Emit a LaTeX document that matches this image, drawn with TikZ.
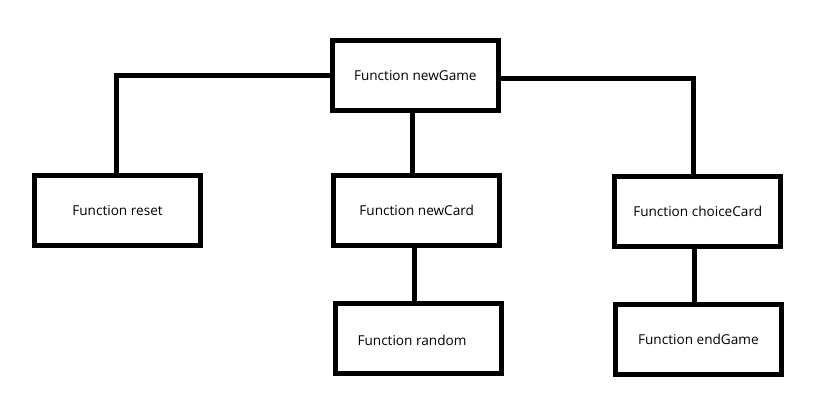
\documentclass[tikz,border=0pt]{standalone}
\usepackage{fontspec}
\setmainfont{Open Sans}
\begin{document}
\begin{tikzpicture}[x=1pt,y=-1pt,
  lbl/.style={font=\fontsize{13.6}{15}\selectfont},
  box/.style={draw=black, line width=5pt, minimum width=165.5pt, minimum height=69.5pt, inner sep=0pt, lbl},
  link/.style={draw=black, line width=5pt}]
\useasboundingbox[fill=white] (0,0) rectangle (815,412);
\node[box] (newGame) at (415.3,75.3) {Function newGame};
\node[box] (reset) at (117.5,210.5) {Function reset};
\node[box] (newCard) at (416.7,210.3) {Function newCard};
\node[box] (choiceCard) at (697.7,211.5) {Function choiceCard};
\node[box, label={[xshift=-6.5pt,yshift=-2pt,lbl]center:Function random}] (random) at (418.5,338.5) {};
\node[box] (endGame) at (698.4,339.4) {Function endGame};
\draw[link] (newGame.west) -| ([xshift=-0.8pt]reset.north);
\draw[link] ([yshift=-3pt]newGame.east) -| ([xshift=-4.2pt]choiceCard.north);
\draw[link] ([xshift=-2.8pt]newGame.south) -- ([xshift=-4.2pt]newCard.north);
\draw[link] ([xshift=-1.9pt]newCard.south) -- ([xshift=-3.7pt]random.north);
\draw[link] ([xshift=-3.2pt]choiceCard.south) -- ([xshift=-3.9pt]endGame.north);
\end{tikzpicture}
\end{document}
